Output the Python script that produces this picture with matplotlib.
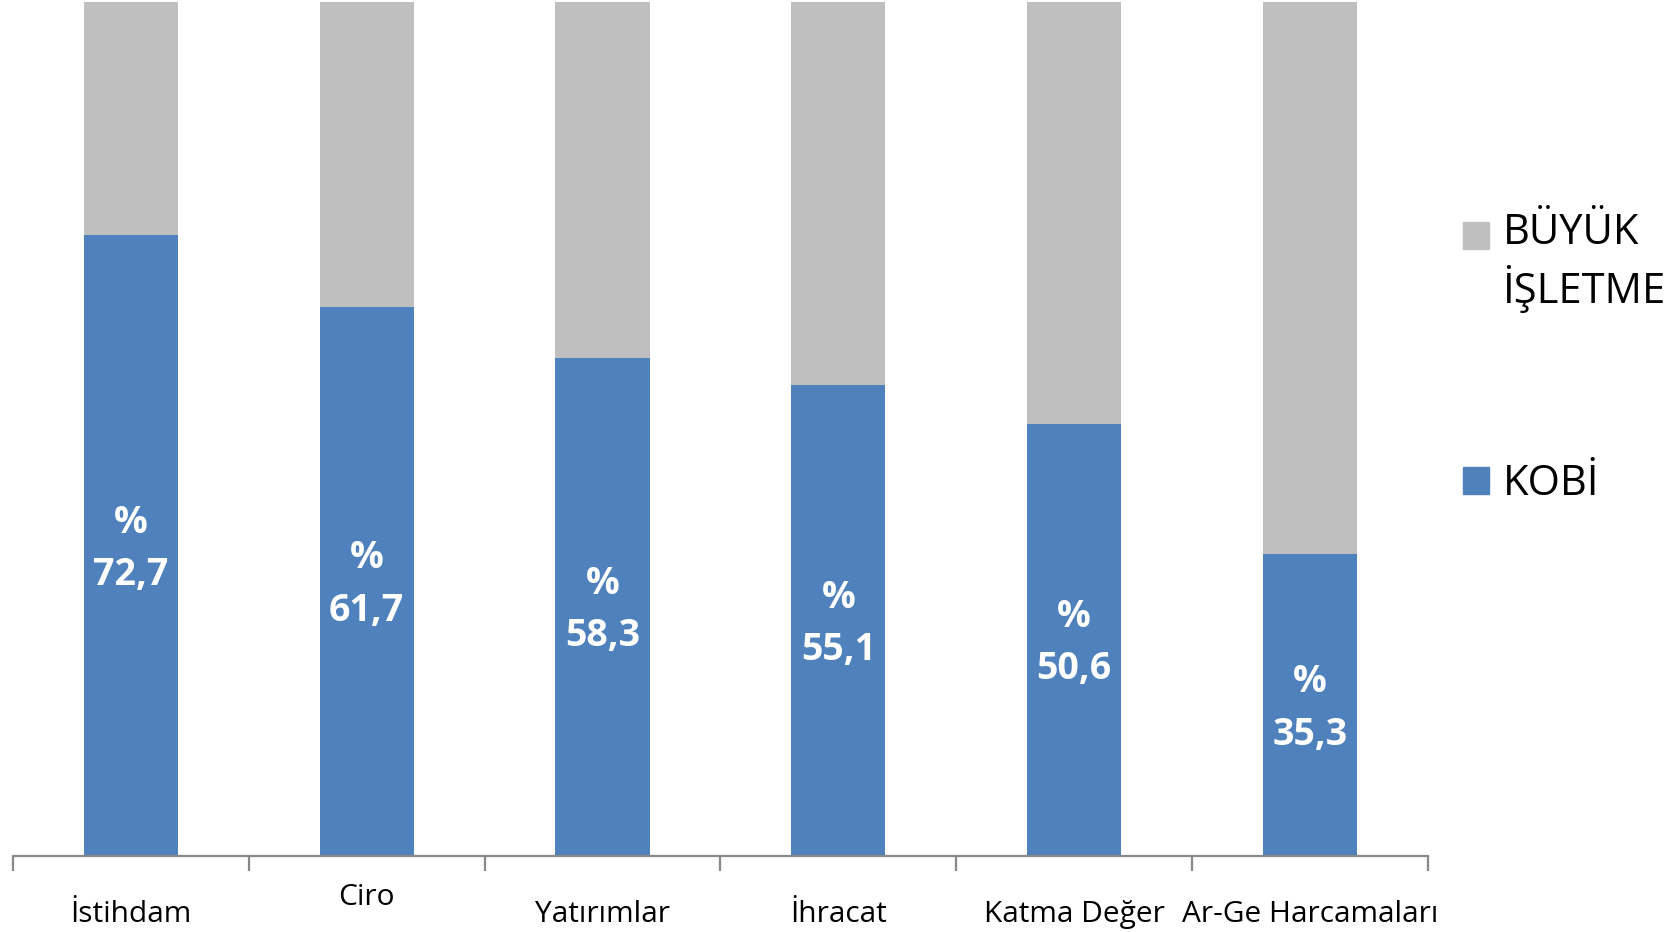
import matplotlib
matplotlib.use("Agg")
import matplotlib.pyplot as plt
from matplotlib.patches import Patch, Rectangle
from matplotlib.legend_handler import HandlerPatch
from matplotlib.transforms import ScaledTranslation
import numpy as np

categories = ["İstihdam", "Ciro", "Yatırımlar", "İhracat", "Katma Değer", "Ar-Ge Harcamaları"]
kobi = [72.7, 64.3, 58.3, 55.1, 50.6, 35.3]
buyuk = [100 - v for v in kobi]
kobi_labels = ["%\n72,7", "%\n61,7", "%\n58,3", "%\n55,1", "%\n50,6", "%\n35,3"]
series_names = ["KOBİ", "BÜYÜK\nİŞLETME"]

plt.rcParams['font.family'] = ['Open Sans', 'DejaVu Sans']

W, H = 1677, 932
fig = plt.figure(figsize=(W / 100, H / 100), dpi=100)
fig.patch.set_facecolor("white")
ax = fig.add_axes([13.0 / W, 1 - 855.6 / H, (1427.8 - 13.0) / W, (855.6 - 2.0) / H])

x = np.arange(len(categories))
blue = "#4F81BD"
gray = "#BFBFBF"
bw = 0.40
ax.bar(x, kobi, width=bw, color=blue, label=series_names[0], zorder=2)
ax.bar(x, buyuk, width=bw, bottom=kobi, color=gray, label=series_names[1], zorder=2)

for xi, v, lab in zip(x, kobi, kobi_labels):
    ax.annotate(lab, xy=(xi, v / 2), xytext=(0, -2.5), textcoords="offset points",
                ha="center", va="center", color="white",
                fontsize=27, fontweight="bold", linespacing=1.5)

ax.set_xlim(-0.5, len(categories) - 0.5)
ax.set_ylim(0, 100)
for s in ["top", "right", "left"]:
    ax.spines[s].set_visible(False)
ax.spines["bottom"].set_color("#888888")
ax.spines["bottom"].set_linewidth(1.6)
ax.set_yticks([])
ax.set_xticks(x)
ax.set_xticklabels(categories)
ax.set_xticks(np.arange(-0.5, len(categories), 1.0), minor=True)
ax.tick_params(axis="x", which="major", length=0, pad=32, labelsize=21.5, labelcolor="black")
ax.tick_params(axis="x", which="minor", length=11, width=1.6, color="#888888")

# Ciro label sits higher
lbl = ax.get_xticklabels()[1]
lbl.set_transform(lbl.get_transform() + ScaledTranslation(0, 17 / 100, fig.dpi_scale_trans))

LEG_FS = 30


def top_square(legend, orig_handle, xdescent, ydescent, width, height, fontsize):
    return Rectangle((-xdescent, -ydescent + 0.68 * fontsize), width, height)


handles = [Patch(color=gray), Patch(color=blue)]
leg = fig.legend(handles, [series_names[1], series_names[0]], loc="upper left",
                 bbox_to_anchor=(1463 / W, 1 - 212 / H), frameon=False,
                 borderaxespad=0, borderpad=0,
                 fontsize=LEG_FS, handlelength=0.62, handleheight=0.62, handletextpad=0.33,
                 labelspacing=3.6,
                 handler_map={handles[0]: HandlerPatch(patch_func=top_square)})
for t in leg.get_texts():
    t.set_linespacing(1.3)

fig.savefig("out.png", dpi=100, facecolor="white")
